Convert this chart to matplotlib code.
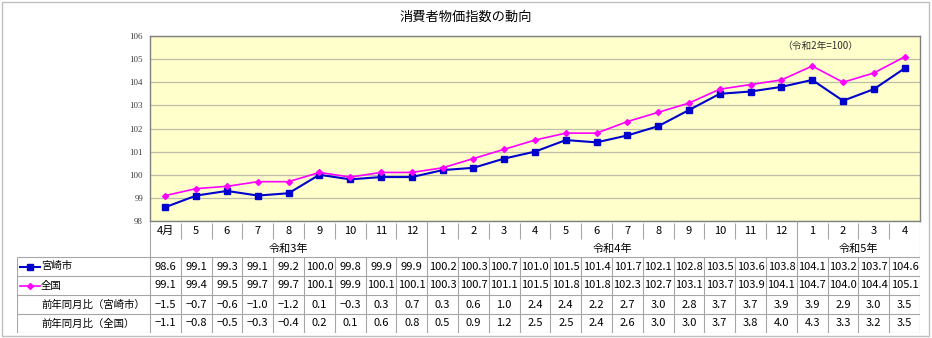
import numpy as np
import matplotlib.pyplot as plt
from matplotlib.patches import Rectangle

plt.rcParams['font.family'] = ['Noto Sans CJK JP', 'DejaVu Sans']

# Data
months = ['4月', '5', '6', '7', '8', '9', '10', '11', '12',
          '1', '2', '3', '4', '5', '6', '7', '8', '9', '10', '11', '12',
          '1', '2', '3', '4']
years = ['令和3年', '令和4年', '令和5年']
year_spans = [9, 12, 4]
miyazaki = [98.6, 99.1, 99.3, 99.1, 99.2, 100.0, 99.8, 99.9, 99.9,
            100.2, 100.3, 100.7, 101.0, 101.5, 101.4, 101.7, 102.1, 102.8, 103.5, 103.6, 103.8,
            104.1, 103.2, 103.7, 104.6]
national = [99.1, 99.4, 99.5, 99.7, 99.7, 100.1, 99.9, 100.1, 100.1,
            100.3, 100.7, 101.1, 101.5, 101.8, 101.8, 102.3, 102.7, 103.1, 103.7, 103.9, 104.1,
            104.7, 104.0, 104.4, 105.1]
yoy_miyazaki = [-1.5, -0.7, -0.6, -1.0, -1.2, 0.1, -0.3, 0.3, 0.7,
                0.3, 0.6, 1.0, 2.4, 2.4, 2.2, 2.7, 3.0, 2.8, 3.7, 3.7, 3.9,
                3.9, 2.9, 3.0, 3.5]
yoy_national = [-1.1, -0.8, -0.5, -0.3, -0.4, 0.2, 0.1, 0.6, 0.8,
                0.5, 0.9, 1.2, 2.5, 2.5, 2.4, 2.6, 3.0, 3.0, 3.7, 3.8, 4.0,
                4.3, 3.3, 3.2, 3.5]
row_labels = ['宮崎市', '全国', '前年同月比（宮崎市）', '前年同月比（全国）']

blue = '#0000CC'
pink = '#FF00FF'
gridc = '#A6A6A6'

W, H = 932, 338
fig = plt.figure(figsize=(W / 100, H / 100), dpi=100)


def box(x0, y0, x1, y1):
    return [x0 / W, 1 - y1 / H, (x1 - x0) / W, (y1 - y0) / H]


# outer frame
fig.patches.append(Rectangle((2 / W, 2 / H), (W - 5) / W, (H - 4) / H,
                             transform=fig.transFigure, fill=False,
                             edgecolor='#C0C0C0', lw=1))
fig.text(0.5, 1 - 17 / H, '消費者物価指数の動向', ha='center', va='center', fontsize=9.5)

# Chart
ax = fig.add_axes(box(150, 36, 920, 221))
x = np.arange(len(months))
ax.set_facecolor('#FFFFCC')
ax.plot(x, miyazaki, color=blue, lw=1.5, marker='s', ms=4.5, zorder=3)
ax.plot(x, national, color=pink, lw=1.2, marker='D', ms=3, zorder=4)
ax.set_xlim(-0.5, len(months) - 0.5)
ax.set_ylim(98, 106)
ax.set_yticks(range(98, 107))
ax.yaxis.grid(True, color='#BDBDA8', lw=0.9)
ax.set_axisbelow(True)
ax.set_xticks([])
ax.tick_params(axis='y', length=0, labelsize=6.5, colors='#404040', pad=5)
for lab in ax.get_yticklabels():
    lab.set_family('Liberation Serif')
for s in ax.spines.values():
    s.set_color('#808080')
    s.set_linewidth(1)
ax.text(0.871, 0.946, '（令和2年=100）', transform=ax.transAxes,
        ha='center', va='center', fontsize=7, color='#303030')

# Table
rows = [221, 240, 257, 276, 295, 314, 333]
col_w = 770 / len(months)
left = -0.5 - 133 / col_w
right = len(months) - 0.5
tax = fig.add_axes(box(17, 221, 920, 333))
tax.set_xlim(left, right)
tax.set_ylim(rows[-1], rows[0])
tax.axis('off')


def u(px):
    return left + (px - 17) / col_w


# month row
for i, m in enumerate(months):
    tax.text(i, (rows[0] + rows[1]) / 2 + 0.5, m, ha='center', va='center', fontsize=8)
bounds = np.cumsum(year_spans)[:-1]
for k in range(1, len(months)):
    if k in bounds:
        tax.vlines(k - 0.5, rows[0], rows[2], color=gridc, lw=0.8)
    else:
        tax.vlines(k - 0.5, rows[0] + 2, rows[1] - 1, color=gridc, lw=0.8)
tax.vlines(-0.5, rows[0], rows[2], color=gridc, lw=0.8)
tax.vlines(right, rows[0], rows[-1], color=gridc, lw=0.8)

# year row
start = 0
for yname, span in zip(years, year_spans):
    tax.text(start + (span - 1) / 2, (rows[1] + rows[2]) / 2, yname,
             ha='center', va='center', fontsize=8)
    start += span

# data rows
tax.hlines(rows[2:], left, right, color=gridc, lw=0.8)
tax.vlines([left] + [k - 0.5 for k in range(len(months) + 1)], rows[2], rows[-1],
           color=gridc, lw=0.8)
series = [miyazaki, national, yoy_miyazaki, yoy_national]
for r, vals in enumerate(series):
    yc = (rows[r + 2] + rows[r + 3]) / 2
    for i, v in enumerate(vals):
        tax.text(i, yc, f'{v:.1f}'.replace('-', '−'), ha='center', va='center', fontsize=8)
    tax.text(u(41), yc, row_labels[r], ha='left', va='center', fontsize=7.5)

# legend keys in table
for r, (c, mk, ms, lw) in enumerate([(blue, 's', 4.5, 1.5), (pink, 'D', 3, 1.2)]):
    yc = (rows[r + 2] + rows[r + 3]) / 2
    tax.plot([u(20), u(40)], [yc, yc], color=c, lw=lw)
    tax.plot([u(30)], [yc], color=c, marker=mk, ms=ms)

fig.savefig('out.png', dpi=100)
